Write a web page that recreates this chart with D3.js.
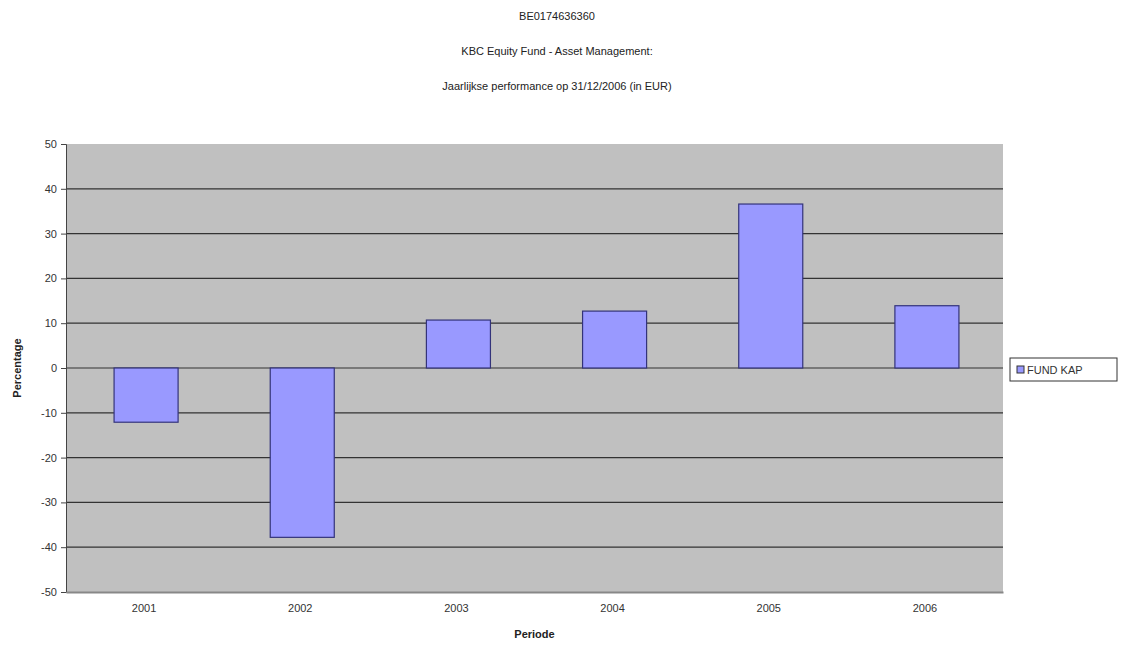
<!DOCTYPE html>
<html>
<head>
<meta charset="utf-8">
<script src="https://cdn.jsdelivr.net/npm/d3@7"></script>
<style>
  body { margin: 0; background: #fff; }
  text { font-family: "Liberation Sans", Arial, sans-serif; }
</style>
</head>
<body>
<div id="container"></div>
<script>
const years = ["2001", "2002", "2003", "2004", "2005", "2006"];
const fundKap = [-12.1, -37.8, 10.7, 12.7, 36.6, 13.9];
const yTicks = [-50, -40, -30, -20, -10, 0, 10, 20, 30, 40, 50];
const titles = [
  "BE0174636360",
  "KBC Equity Fund - Asset Management:",
  "Jaarlijkse performance op 31/12/2006 (in EUR)"
];
const seriesName = "FUND KAP";

const w = 1122;
const h = 646;
const plot = { left: 66, right: 1003, top: 144, bottom: 592 };

const svg = d3
  .select("#container")
  .append("svg")
  .attr("width", w)
  .attr("height", h);

// titles
svg
  .selectAll(".title")
  .data(titles)
  .enter()
  .append("text")
  .attr("class", "title")
  .attr("x", 557)
  .attr("y", (d, i) => 20 + i * 35)
  .attr("text-anchor", "middle")
  .style("font-size", "11px")
  .attr("fill", "#222")
  .text((d) => d);

// bars sit slightly right of the category centre, like the original
const xScale = d3
  .scaleBand()
  .domain(years)
  .range([plot.left + 2, plot.right + 2])
  .paddingInner(0.59)
  .paddingOuter(0.295);

const xCat = d3.scaleBand().domain(years).range([plot.left, plot.right]);

const yScale = d3
  .scaleLinear()
  .domain([-50, 50])
  .range([plot.bottom, plot.top]);

// plot area
svg
  .append("rect")
  .attr("x", plot.left)
  .attr("y", plot.top)
  .attr("width", plot.right - plot.left)
  .attr("height", plot.bottom - plot.top)
  .attr("fill", "#c0c0c0");

// gridlines
svg
  .append("g")
  .selectAll("line")
  .data(yTicks.filter((d) => d > -50 && d < 50))
  .enter()
  .append("line")
  .attr("x1", plot.left)
  .attr("x2", plot.right)
  .attr("y1", (d) => yScale(d))
  .attr("y2", (d) => yScale(d))
  .attr("stroke", "#333")
  .attr("stroke-width", 1.2);

// y axis
const yAxis = svg
  .append("g")
  .attr("transform", `translate(${plot.left}, 0)`)
  .call(
    d3
      .axisLeft(yScale)
      .tickValues(yTicks)
      .tickFormat((d) => String(d))
      .tickSize(5)
      .tickPadding(4)
  );
yAxis.select(".domain").attr("stroke", "#444");
yAxis.selectAll(".tick line").attr("stroke", "#444");
yAxis
  .selectAll("text")
  .style("font-size", "11px")
  .attr("fill", "#333")
  .style("font-family", "'Liberation Sans Narrow', 'Liberation Sans', sans-serif");

// x axis
const xAxis = svg
  .append("g")
  .attr("transform", `translate(0, ${plot.bottom})`)
  .call(d3.axisBottom(xCat).tickSize(0).tickPadding(12));
xAxis.select(".domain").attr("stroke", "#888").attr("stroke-width", 2);
xAxis
  .selectAll("text")
  .style("font-size", "11px")
  .attr("fill", "#333")
  .style("font-family", "'Liberation Sans Narrow', 'Liberation Sans', sans-serif");

// bars
svg
  .selectAll(".bar")
  .data(fundKap)
  .enter()
  .append("rect")
  .attr("class", "bar")
  .attr("x", (d, i) => xScale(years[i]))
  .attr("y", (d) => yScale(Math.max(0, d)))
  .attr("width", xScale.bandwidth())
  .attr("height", (d) => Math.abs(yScale(d) - yScale(0)))
  .attr("fill", "#9999ff")
  .attr("stroke", "#33337a")
  .attr("stroke-width", 1.2);

// axis titles
svg
  .append("text")
  .attr("x", (plot.left + plot.right) / 2)
  .attr("y", 638)
  .attr("text-anchor", "middle")
  .style("font-size", "11px")
  .style("font-weight", "bold")
  .attr("fill", "#222")
  .text("Periode");

svg
  .append("text")
  .attr("transform", `translate(21, ${yScale(0)}) rotate(-90)`)
  .attr("text-anchor", "middle")
  .style("font-size", "11px")
  .style("font-weight", "bold")
  .attr("fill", "#222")
  .text("Percentage");

// legend
const legend = svg.append("g").attr("transform", "translate(1010, 358)");
legend
  .append("rect")
  .attr("width", 107)
  .attr("height", 23)
  .attr("fill", "#fff")
  .attr("stroke", "#333");
legend
  .append("rect")
  .attr("x", 7)
  .attr("y", 8)
  .attr("width", 7)
  .attr("height", 7)
  .attr("fill", "#9999ff")
  .attr("stroke", "#333");
legend
  .append("text")
  .attr("x", 17)
  .attr("y", 15.5)
  .style("font-size", "11px")
  .attr("fill", "#333")
  .text(seriesName);
</script>
</body>
</html>
